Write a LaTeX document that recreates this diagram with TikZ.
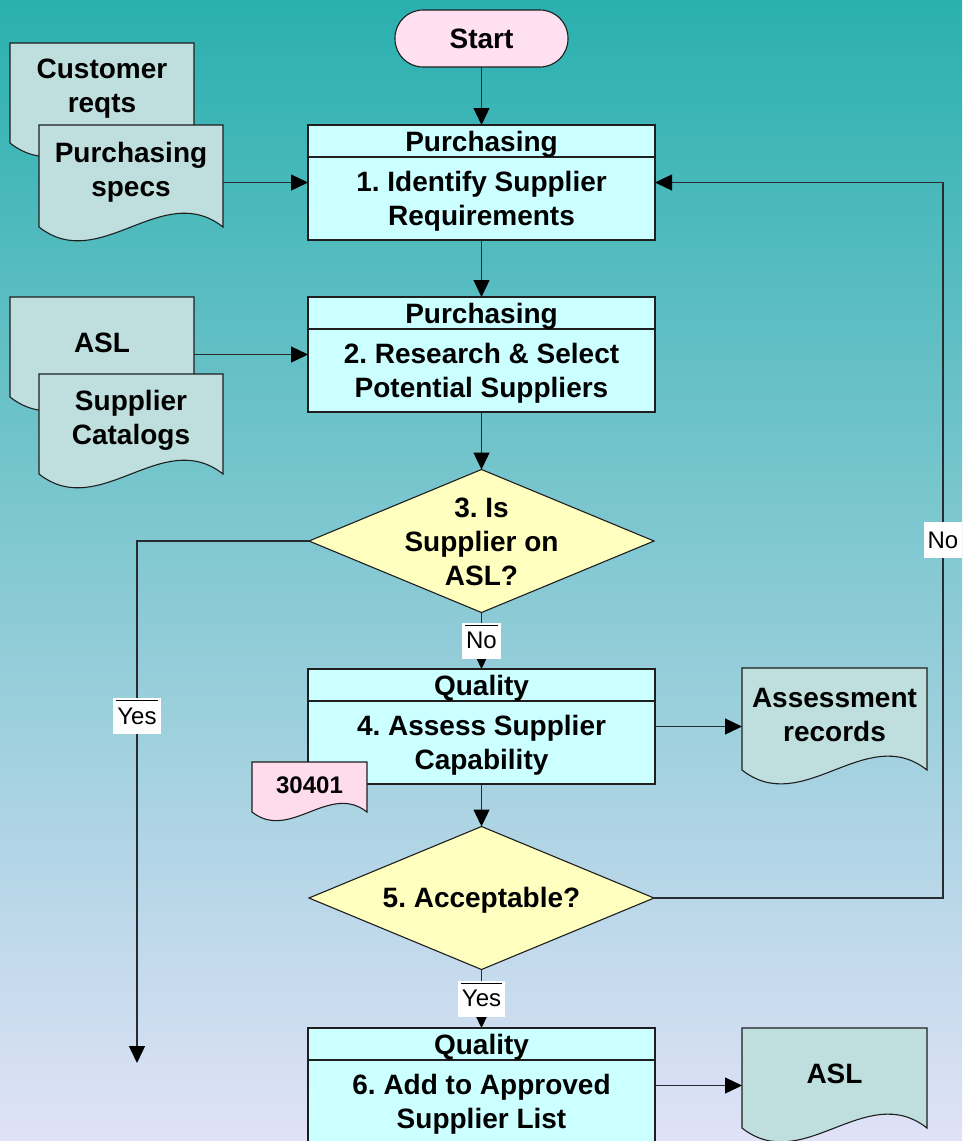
\documentclass[tikz,border=0pt]{standalone}
\usepackage{fontspec}
\setmainfont{Liberation Sans}
\usetikzlibrary{shapes.geometric,arrows.meta,calc}
\frenchspacing

\definecolor{bgtop}{RGB}{42,176,174}
\definecolor{bgmid}{RGB}{150,200,214}
\definecolor{bgbot}{RGB}{224,226,248}
\definecolor{docfill}{RGB}{190,223,222}
\definecolor{procfill}{RGB}{204,255,255}
\definecolor{decfill}{RGB}{255,255,192}
\definecolor{termfill}{RGB}{255,224,240}
\definecolor{reffill}{RGB}{255,220,235}
\definecolor{edge}{RGB}{30,30,30}
\definecolor{wirecol}{RGB}{40,44,48}

\tikzset{
  outline/.style={draw=edge, line width=1.1pt},
  proc/.style={outline, fill=procfill, rectangle, minimum width=347pt, minimum height=115pt, inner sep=0pt, outer sep=0pt},
  dec/.style={outline, fill=decfill, diamond, minimum width=345pt, minimum height=143pt, inner sep=0pt, outer sep=0pt},
  term/.style={outline, fill=termfill, rectangle, rounded corners=28pt, minimum width=173pt, minimum height=57pt, inner sep=0pt, outer sep=0pt},
  txt/.style={font=\fontsize{28}{34}\selectfont\bfseries, align=center, inner sep=0pt},
  frame/.style={rectangle, draw=none, inner sep=0pt, outer sep=0pt},
  wire/.style={draw=wirecol, line width=1.3pt},
  arr/.style={wire, -{Triangle[length=17pt,width=16pt,color=black]}},
  tag/.style={fill=white, font=\fontsize{24}{28}\selectfont, inner xsep=4pt, inner ysep=0pt, minimum height=36pt},
  bartag/.style={tag, path picture={\draw[-, draw=black, line width=0.9pt] ([xshift=3pt,yshift=-2.5pt]path picture bounding box.north west) -- ([xshift=-3pt,yshift=-2.5pt]path picture bounding box.north east);}},
}

% process box: name, x centre, top, header text, body text
\newcommand\procbox[5]{%
  \node[proc, anchor=north] (#1) at (#2,#3) {};
  \draw[outline] ([yshift=-32pt]#1.north west) -- ([yshift=-32pt]#1.north east);
  \node[txt] (#1-h) at ([yshift=-19pt]#1.north) {#4};
  \node[txt] (#1-t) at ([yshift=-76pt]#1.north) {#5};
}

% document shape with wavy bottom: name, fill, left, top, right, bottom, text
\newcommand\docshape[7]{%
  \node[frame, minimum width={(#5-#3)*1pt}, minimum height={(#6-#4)*1pt}, anchor=north west] (#1) at (#3,#4) {};
  \filldraw[outline, fill=#2] (#1.north west) -- (#1.north east) -- (#1.south east)
    .. controls ($(#1.south east)!0.33!(#1.south west)+(0,{-0.26*(#5-#3)})$)
           and ($(#1.south east)!0.67!(#1.south west)+(0,{0.26*(#5-#3)})$) .. (#1.south west) -- cycle;
  \node[txt] (#1-t) at ($(#1.north)!0.46!(#1.south)$) {#7};
}

\begin{document}
\begin{tikzpicture}[x=1pt, y=-1pt]
  \useasboundingbox (0,0) rectangle (962,1141);
  \fill[top color=bgtop, middle color=bgmid, bottom color=bgbot] (0,0) rectangle (962,1141);

  % input and output documents
  \docshape{cust}{docfill}{10}{43}{194}{143}{Customer\\reqts}
  \docshape{specs}{docfill}{39}{125}{223}{227}{Purchasing\\specs}
  \docshape{aslin}{docfill}{10}{297}{194}{397}{ASL}
  \docshape{cat}{docfill}{39}{374}{223}{474}{Supplier\\Catalogs}
  \docshape{rec}{docfill}{742}{668}{927}{770}{Assessment\\records}
  \docshape{aslout}{docfill}{742}{1028}{927}{1128}{ASL}

  % flow
  \node[term, font=\fontsize{28}{34}\selectfont\bfseries] (start) at (481.5,38.5) {Start};
  \procbox{b1}{481.5}{125}{Purchasing}{1. Identify Supplier\\Requirements}
  \procbox{b2}{481.5}{297}{Purchasing}{2. Research \& Select\\Potential Suppliers}
  \node[dec] (d3) at (481.5,541) {};
  \node[txt] (d3-t) at ([yshift=-1pt]d3.center) {3. Is\\Supplier on\\ASL?};
  \procbox{b4}{481.5}{669}{Quality}{4. Assess Supplier\\Capability}
  \docshape{ref}{reffill}{252}{762}{367}{812}{{\fontsize{24}{28}\selectfont 30401}}
  \node[dec] (d5) at (481.5,898) {};
  \node[txt] (d5-t) at ([yshift=-2pt]d5.center) {5. Acceptable?};
  \procbox{b6}{481.5}{1028}{Quality}{6. Add to Approved\\Supplier List}

  \coordinate (yesend) at (137,1063);
  \coordinate (loop) at (943,182.5);

  % connectors
  \draw[arr] (start) -- (b1);
  \draw[arr] (b1) -- (b2);
  \draw[arr] (b2) -- (d3);
  \draw[arr] (d3) -- node[bartag] {No} (b4);
  \draw[arr] (b4) -- (d5);
  \draw[arr] (d5) -- node[bartag] {Yes} (b6);
  \draw[arr] (specs.east |- b1.west) -- (b1.west);
  \draw[arr] (aslin.east |- b2.west) -- (b2.west);
  \draw[arr] (b4.east) -- (b4.east -| rec.west);
  \draw[arr] (b6.east) -- (b6.east -| aslout.west);
  \draw[arr] (d3.west) -| node[bartag, pos=0.668] {Yes} (yesend);
  \draw[arr] (d5.east) -| node[tag, pos=0.75] {No} (loop) -- (b1.east);
\end{tikzpicture}
\end{document}
